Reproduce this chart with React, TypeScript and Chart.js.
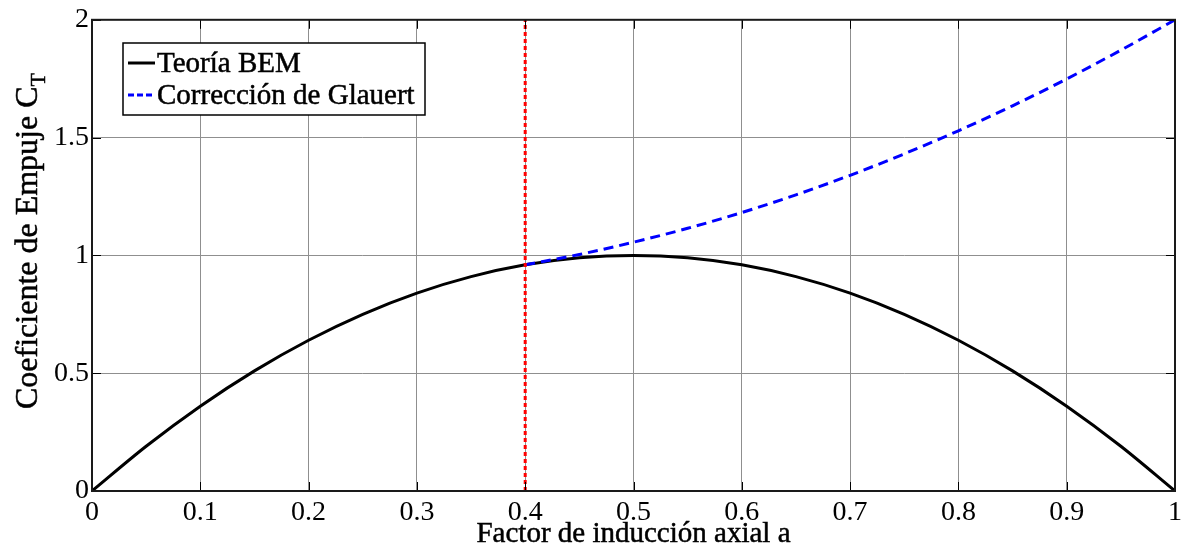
import React, { useEffect, useRef } from "react";
import { Chart, registerables } from "chart.js";

Chart.register(...registerables);

// Axial induction factor samples and thrust coefficient (momentum theory)
const inductionA = [
  0, 0.05, 0.1, 0.15, 0.2, 0.25, 0.3, 0.35, 0.4, 0.45, 0.5, 0.55, 0.6, 0.65, 0.7,
  0.75, 0.8, 0.85, 0.9, 0.95, 1.0,
];
const thrustBEM = [
  0, 0.19, 0.36, 0.51, 0.64, 0.75, 0.84, 0.91, 0.96, 0.99, 1.0, 0.99, 0.96, 0.91,
  0.84, 0.75, 0.64, 0.51, 0.36, 0.19, 0,
];

// Glauert empirical correction for high induction
const glauertA = [0.4, 0.45, 0.5, 0.55, 0.6, 0.65, 0.7, 0.75, 0.8, 0.85, 0.9, 0.95, 1.0];
const thrustGlauert = [
  0.96, 1.004, 1.056, 1.115, 1.182, 1.257, 1.34, 1.431, 1.529, 1.635, 1.749, 1.871, 2.0,
];

// Transition point between both models
const transitionA = 0.4;
const transitionSpan = [0, 2];

const xTicks = [0, 0.1, 0.2, 0.3, 0.4, 0.5, 0.6, 0.7, 0.8, 0.9, 1];
const yTicks = [0, 0.5, 1, 1.5, 2];
const xTickLabels = ["0", "0.1", "0.2", "0.3", "0.4", "0.5", "0.6", "0.7", "0.8", "0.9", "1"];
const yTickLabels = ["0", "0.5", "1", "1.5", "2"];

const seriesNames = ["Teoría BEM", "Corrección de Glauert"];
const xTitle = "Factor de inducción axial a";
const yTitle = "Coeficiente de Empuje C";
const yTitleSub = "T";

const FONT = '"Liberation Serif", "DejaVu Serif", serif';
const TEXT_FONT = `29px ${FONT}`;
const YTITLE_FONT = `32px ${FONT}`;
const SUB_FONT = `22px ${FONT}`;

// Draws text with a slightly heavier stroke
function heavyText(ctx: CanvasRenderingContext2D, s: string, x: number, y: number) {
  ctx.fillText(s, x, y);
  ctx.lineWidth = 0.5;
  ctx.strokeStyle = ctx.fillStyle as string;
  ctx.strokeText(s, x, y);
}

const framePlugin = {
  id: "frame",
  afterDraw(chart: any) {
    const { ctx, chartArea: a, scales } = chart;
    const xs = scales.x;
    const ys = scales.y;
    ctx.save();
    // inward tick marks on all four sides
    ctx.strokeStyle = "#000";
    ctx.lineWidth = 1;
    const tl = 9;
    xTicks.forEach((v) => {
      const px = Math.round(xs.getPixelForValue(v)) + 0.5;
      ctx.beginPath();
      ctx.moveTo(px, a.bottom);
      ctx.lineTo(px, a.bottom - tl);
      ctx.moveTo(px, a.top);
      ctx.lineTo(px, a.top + tl);
      ctx.stroke();
    });
    yTicks.forEach((v) => {
      const py = Math.round(ys.getPixelForValue(v)) + 0.5;
      ctx.beginPath();
      ctx.moveTo(a.left, py);
      ctx.lineTo(a.left + tl, py);
      ctx.moveTo(a.right, py);
      ctx.lineTo(a.right - tl, py);
      ctx.stroke();
    });
    // axes box
    ctx.lineWidth = 2;
    ctx.strokeStyle = "#1a1a1a";
    ctx.strokeRect(a.left, a.top, a.right - a.left, a.bottom - a.top);

    // legend
    const lx = 123;
    const ly = 43;
    const lw = 302;
    const lh = 72;
    ctx.fillStyle = "#fff";
    ctx.fillRect(lx, ly, lw, lh);
    ctx.lineWidth = 1.5;
    ctx.strokeStyle = "#000";
    ctx.strokeRect(lx, ly, lw, lh);
    const rows = [
      { y: ly + 20, color: "#000", dash: [] as number[] },
      { y: ly + 52, color: "#0000ff", dash: [6, 3] },
    ];
    ctx.font = TEXT_FONT;
    ctx.textBaseline = "middle";
    ctx.textAlign = "left";
    rows.forEach((r, i) => {
      ctx.beginPath();
      ctx.setLineDash(r.dash);
      ctx.lineWidth = 3;
      ctx.strokeStyle = r.color;
      ctx.moveTo(lx + 5, r.y);
      ctx.lineTo(lx + 32, r.y);
      ctx.stroke();
      ctx.setLineDash([]);
      ctx.fillStyle = "#000";
      heavyText(ctx, seriesNames[i], lx + 34, r.y + 1);
    });

    // axis titles
    ctx.fillStyle = "#000";
    ctx.font = TEXT_FONT;
    ctx.textAlign = "center";
    ctx.textBaseline = "alphabetic";
    heavyText(ctx, xTitle, (a.left + a.right) / 2, 542);

    ctx.save();
    ctx.font = YTITLE_FONT;
    const mainW = ctx.measureText(yTitle).width;
    ctx.font = SUB_FONT;
    const subW = ctx.measureText(yTitleSub).width;
    const total = mainW + subW;
    ctx.translate(37, 241);
    ctx.rotate(-Math.PI / 2);
    ctx.textAlign = "left";
    ctx.font = YTITLE_FONT;
    heavyText(ctx, yTitle, -total / 2, 0);
    ctx.font = SUB_FONT;
    heavyText(ctx, yTitleSub, -total / 2 + mainW, 8);
    ctx.restore();

    ctx.restore();
  },
};

export default function App() {
  const canvasRef = useRef<HTMLCanvasElement | null>(null);

  useEffect(() => {
    document.body.style.margin = "0";
    const canvas = canvasRef.current;
    if (!canvas) return;

    const chart = new Chart(canvas, {
      type: "line",
      data: {
        datasets: [
          {
            label: seriesNames[0],
            data: inductionA.map((a, i) => ({ x: a, y: thrustBEM[i] })),
            borderColor: "#000",
            borderWidth: 3,
            pointRadius: 0,
            cubicInterpolationMode: "monotone",
            order: 2,
          },
          {
            label: seriesNames[1],
            data: glauertA.map((a, i) => ({ x: a, y: thrustGlauert[i] })),
            borderColor: "#0000ff",
            borderWidth: 3,
            borderDash: [10, 6],
            pointRadius: 0,
            cubicInterpolationMode: "monotone",
            order: 1,
          },
          {
            label: "transition",
            data: transitionSpan.map((y) => ({ x: transitionA, y })),
            borderColor: "#ff0000",
            borderWidth: 3,
            borderDash: [4, 3],
            pointRadius: 0,
            order: 0,
          },
        ],
      },
      options: {
        animation: false,
        responsive: false,
        devicePixelRatio: 1,
        layout: { padding: { top: 18, right: 0, left: 0, bottom: 0 } },
        plugins: {
          legend: { display: false },
          tooltip: { enabled: false },
        },
        scales: {
          x: {
            type: "linear",
            min: 0,
            max: 1,
            afterBuildTicks: (s: any) => {
              s.ticks = xTicks.map((v) => ({ value: v }));
            },
            afterFit: (s: any) => {
              s.height = 57;
              s.paddingRight = 6;
              s.paddingLeft = 0;
            },
            ticks: {
              color: "#000",
              padding: 5,
              font: { family: FONT, size: 28 },
              callback: (_v: any, i: number) => xTickLabels[i],
              maxRotation: 0,
              autoSkip: false,
            },
            grid: { color: "#8f8f8f", lineWidth: 1, drawTicks: false },
            border: { display: false },
          },
          y: {
            type: "linear",
            min: 0,
            max: 2,
            afterBuildTicks: (s: any) => {
              s.ticks = yTicks.map((v) => ({ value: v }));
            },
            afterFit: (s: any) => {
              s.width = 92;
            },
            ticks: {
              color: "#000",
              padding: 3,
              font: { family: FONT, size: 28 },
              callback: (_v: any, i: number) => yTickLabels[i],
              autoSkip: false,
            },
            grid: { color: "#8f8f8f", lineWidth: 1, drawTicks: false },
            border: { display: false },
          },
        },
      },
      plugins: [framePlugin],
    });

    return () => chart.destroy();
  }, []);

  return (
    <div style={{ width: 1181, height: 548 }}>
      <canvas ref={canvasRef} width={1181} height={548} style={{ display: "block" }} />
    </div>
  );
}
